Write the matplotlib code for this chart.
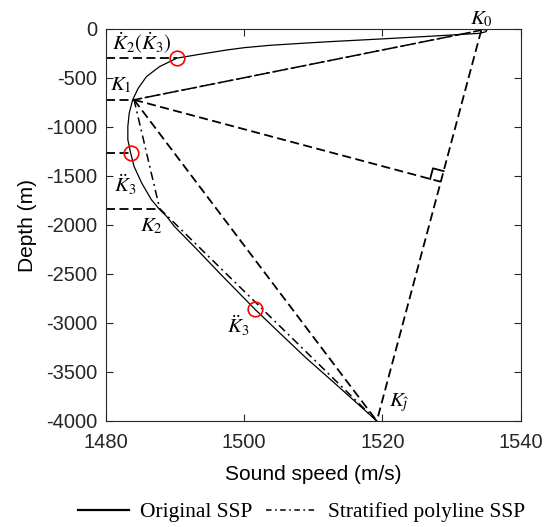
import numpy as np
import matplotlib
matplotlib.use("Agg")
import matplotlib.pyplot as plt
from matplotlib.lines import Line2D

# ---- data ----
orig_depth = [0, -13, -30, -47, -77, -105, -132, -150, -169, -193, -217, -261,
              -300, -386, -488, -607, -725, -861, -997, -1132, -1265, -1404,
              -1573, -1743, -1844, -1913, -2014, -2251, -2488, -2862, -3065,
              -3353, -3608, -4000]
orig_speed = [1533.6, 1535.1, 1535.0, 1534.1, 1526.9, 1519.7, 1512.4, 1508.1,
              1503.8, 1500.1, 1497.5, 1493.6, 1490.3, 1487.8, 1485.9, 1484.7,
              1483.9, 1483.4, 1483.2, 1483.2, 1483.6, 1484.1, 1485.2, 1486.6,
              1487.8, 1488.8, 1489.9, 1493.2, 1496.4, 1501.6, 1504.6, 1508.9,
              1513.0, 1519.2]

# polyline knots K0, K1, K2, Kj
knot_names = ["K0", "K1", "K2", "Kj"]
knot_speed = [1534.3, 1484.1, 1487.8, 1519.2]
knot_depth = [-15, -725, -1834, -4000]

# horizontal reference depths and their speeds
ref_depth = [-300, -725, -1265, -1834]
ref_speed = [1490.3, 1484.1, 1483.6, 1487.8]

# marked points (red circles)
circ_speed = [1490.3, 1483.6, 1501.6]
circ_depth = [-300, -1265, -2862]

xticks = [1480, 1500, 1520, 1540]
yticks = [0, -500, -1000, -1500, -2000, -2500, -3000, -3500, -4000]

# ---- figure ----
plt.rcParams['lines.scale_dashes'] = False
plt.rcParams['mathtext.fontset'] = 'stix'
W, H = 559, 527
fig = plt.figure(figsize=(W / 100, H / 100), dpi=100)
ax = fig.add_axes([105.7 / W, 1 - 421 / H, (520.7 - 105.7) / W, (421 - 28.7) / H])
ax.set_xlim(1480, 1540)
ax.set_ylim(-4000, 0)

axc = '#262626'
dash = (0, (6.5, 3.2))
dashdot = (0, (6, 3, 1.4, 3))
lw = 1.1

# original SSP
ax.plot(orig_speed, orig_depth, color='black', lw=0.9, solid_joinstyle='round')
# stratified polyline
ax.plot(knot_speed, knot_depth, color='black', lw=lw, linestyle=dashdot)
# K1 -> K0 dash-dot
ax.plot([knot_speed[1], knot_speed[0]], [knot_depth[1], knot_depth[0]],
        color='black', lw=lw, linestyle=dashdot)

# horizontal dashed references
for d, s in zip(ref_depth, ref_speed):
    ax.plot([1480, s], [d, d], color='black', lw=1.3, linestyle=dash)

# dashed K0 -> Kj and K1 -> Kj
ax.plot([knot_speed[0], knot_speed[3]], [knot_depth[0], knot_depth[3]],
        color='black', lw=1.3, linestyle=dash)
ax.plot([knot_speed[1], knot_speed[3]], [knot_depth[1], knot_depth[3]],
        color='black', lw=1.3, linestyle=dash)

# perpendicular from K1 onto K0-Kj (in display space)
T = ax.transData
p0 = T.transform((knot_speed[0], knot_depth[0]))
pj = T.transform((knot_speed[3], knot_depth[3]))
p1 = T.transform((knot_speed[1], knot_depth[1]))
d = pj - p0
t = np.dot(p1 - p0, d) / np.dot(d, d)
foot = p0 + t * d
foot_data = T.inverted().transform(foot)
ax.plot([knot_speed[1], foot_data[0]], [knot_depth[1], foot_data[1]],
        color='black', lw=1.3, linestyle=dash)
u = (p1 - foot) / np.linalg.norm(p1 - foot)
v = (p0 - foot) / np.linalg.norm(p0 - foot)
s = 11
corners = np.array([foot + s * u, foot + s * u + s * v, foot + s * v])
cd = T.inverted().transform(corners)
ax.plot(cd[:, 0], cd[:, 1], color='black', lw=1.3)

# red circles
ax.plot(circ_speed, circ_depth, linestyle='none', marker='o', markersize=10.5,
        markerfacecolor='none', markeredgecolor='#ff0000', markeredgewidth=1.2)

# labels
lab = dict(fontsize=15, color='black')
ax.text(1480.9, -145, r'$\dot{K}_2(\dot{K}_3)$', va='center', ha='left', **lab)
ax.text(1480.6, -573, r'$K_1$', va='center', ha='left', **lab)
ax.text(1481.2, -1590, r'$\ddot{K}_3$', va='center', ha='left', **lab)
ax.text(1485.0, -2010, r'$K_2$', va='center', ha='left', **lab)
ax.text(1497.6, -3030, r'$\ddot{K}_3$', va='center', ha='left', **lab)
ax.text(1532.6, 100, r'$K_0$', va='center', ha='left', clip_on=False, **lab)
ax.text(1521.0, -3810, r'$K_{\hat{\jmath}}$', va='center', ha='left', **lab)

# axes styling
for sp in ax.spines.values():
    sp.set_color(axc)
    sp.set_linewidth(0.8)
ax.set_xticks(xticks)
ax.set_yticks(yticks)
ax.set_xticklabels([str(v) for v in xticks], fontfamily='Liberation Sans')
ax.set_yticklabels([str(v) for v in yticks], fontfamily='Liberation Sans')
ax.tick_params(direction='in', length=5, width=0.8, color=axc, labelcolor=axc,
               labelsize=14.5, top=True, right=True)
ax.tick_params(axis='x', pad=9)
ax.tick_params(axis='y', pad=6)

ax.set_xlabel('Sound speed (m/s)', fontsize=15, fontfamily='Liberation Sans', color='black')
ax.set_ylabel('Depth (m)', fontsize=15, fontfamily='Liberation Sans', color='black')
ax.xaxis.set_label_coords(313 / W, 1 - 465 / H, transform=fig.transFigure)
ax.yaxis.set_label_coords(37 / W, 1 - 225 / H, transform=fig.transFigure)

handles = [Line2D([], [], color='black', lw=1.6),
           Line2D([], [], color='black', lw=1.1, linestyle=(0, (4, 2.5, 1.2, 2.5)))]
fig.legend(handles, ['Original SSP', 'Stratified polyline SSP'], loc='center',
           bbox_to_anchor=(301.5 / W, 1 - 512 / H), ncol=2, frameon=False,
           prop={'family': 'Liberation Serif', 'size': 15.5},
           handlelength=2.4, handletextpad=0.5, columnspacing=0.62,
           borderaxespad=0, borderpad=0)

fig.savefig('out.png', dpi=100)
